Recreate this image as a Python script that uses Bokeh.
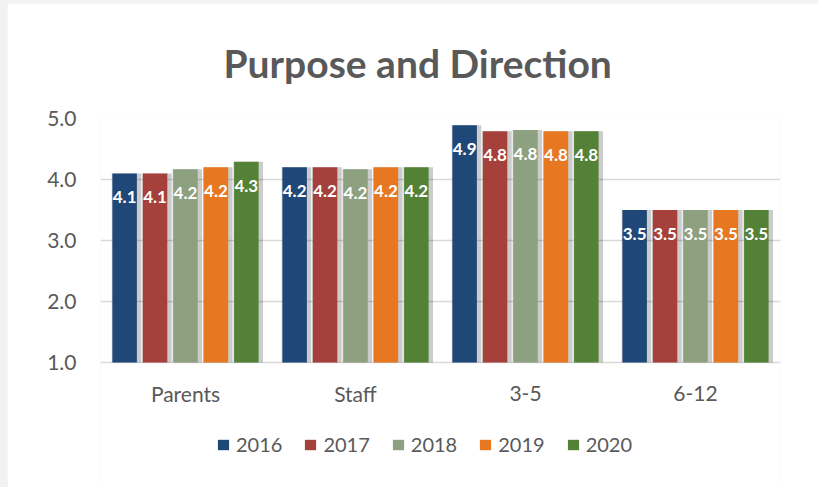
from bokeh.plotting import figure
from bokeh.models import ColumnDataSource, Range1d, FixedTicker, PrintfTickFormatter, Legend, LegendItem, LabelSet
from bokeh.transform import dodge
from bokeh.core.properties import value
from bokeh.embed import file_html
from bokeh.resources import INLINE

cats = ["Parents", "Staff", "3-5", "6-12"]
years = ["2016", "2017", "2018", "2019", "2020"]
v2016 = [4.10, 4.20, 4.89, 3.50]
v2017 = [4.10, 4.20, 4.79, 3.50]
v2018 = [4.17, 4.17, 4.81, 3.50]
v2019 = [4.20, 4.20, 4.79, 3.50]
v2020 = [4.29, 4.20, 4.79, 3.50]
colors = ["#1f4778", "#a5403a", "#8da07f", "#e87722", "#538135"]
yticks = [1, 2, 3, 4, 5]

series = [v2016, v2017, v2018, v2019, v2020]
data = {"cats": cats}
for y, vals in zip(years, series):
    data["val_" + y] = vals
    data["lab_" + y] = [f"{v:.1f}" for v in vals]
src = ColumnDataSource(data)

# frame extends to the bottom of the page so the legend can sit inside it;
# the value axis keeps 61 px per unit with 1.0 as the bar baseline
frame_h = 369
px_per_unit = 61
y_start = 5 - frame_h / px_per_unit

p = figure(x_range=cats, y_range=Range1d(y_start, 5), frame_width=680, frame_height=frame_h,
           min_border_left=93, min_border_right=38, min_border_top=115, min_border_bottom=0,
           x_axis_location=None, output_backend="svg", toolbar_location=None)
p.margin = (3, 0, 0, 7)
p.outline_line_color = None
p.background_fill_color = "white"
p.border_fill_color = "white"

p.title.text = "Purpose and Direction"
p.title.text_font = "Lato"
p.title.text_font_style = "bold"
p.title.text_font_size = "39px"
p.title.text_color = "#595959"
p.title.align = "left"
p.title.offset = 123
p.title.standoff = 66

step = 0.179
bw = 0.144
items = []
for i, (y, c) in enumerate(zip(years, colors)):
    off = (i - 2) * step
    p.vbar(x=dodge("cats", off + 0.011, range=p.x_range), top="val_" + y, bottom=1,
           width=bw + 0.03, source=src, fill_color="black", fill_alpha=0.2, line_color=None)
for i, (y, c) in enumerate(zip(years, colors)):
    off = (i - 2) * step
    r = p.vbar(x=dodge("cats", off, range=p.x_range), top="val_" + y, bottom=1, width=bw,
               source=src, fill_color=c, line_color=None)
    items.append(LegendItem(label=value(y), renderers=[r]))
    lbl = LabelSet(x=dodge("cats", off, range=p.x_range), y="val_" + y, text="lab_" + y,
                   source=src, y_offset=-24, text_align="center", text_baseline="middle",
                   text_font=value("Lato"), text_font_style="bold", text_font_size="17px",
                   text_color="white")
    p.add_layout(lbl)

# category labels under the baseline
cat_labels = LabelSet(x="cats", y=1, text="cats", source=src, y_offset=-31,
                      text_align="center", text_baseline="middle",
                      text_font=value("Lato"), text_font_size="21px", text_color="#595959")
p.add_layout(cat_labels)

p.xgrid.grid_line_color = None
p.ygrid.grid_line_color = "#d9d9d9"
p.ygrid.grid_line_width = 1.6

p.yaxis.ticker = FixedTicker(ticks=yticks)
p.yaxis.formatter = PrintfTickFormatter(format="%.1f")
p.yaxis.axis_line_color = None
p.yaxis.major_tick_line_color = None
p.yaxis.minor_tick_line_color = None
p.yaxis.major_label_standoff = 18
p.yaxis.major_label_text_font = "Lato"
p.yaxis.major_label_text_font_size = "21px"
p.yaxis.major_label_text_color = "#595959"

legend = Legend(items=items, orientation="horizontal", location=(116, 31),
                glyph_width=14, glyph_height=13, label_standoff=6, spacing=21,
                label_height=20, padding=0, margin=0, label_text_font="Lato",
                label_text_font_size="20px", label_text_color="#595959",
                border_line_color=None, background_fill_alpha=0)
p.add_layout(legend)

html = file_html(p, INLINE)
html = html.replace("</head>", "<style>html,body{margin:0 !important;padding:0;background:#f2f2f2 !important;}</style></head>", 1)
open("out.html", "w").write(html)
